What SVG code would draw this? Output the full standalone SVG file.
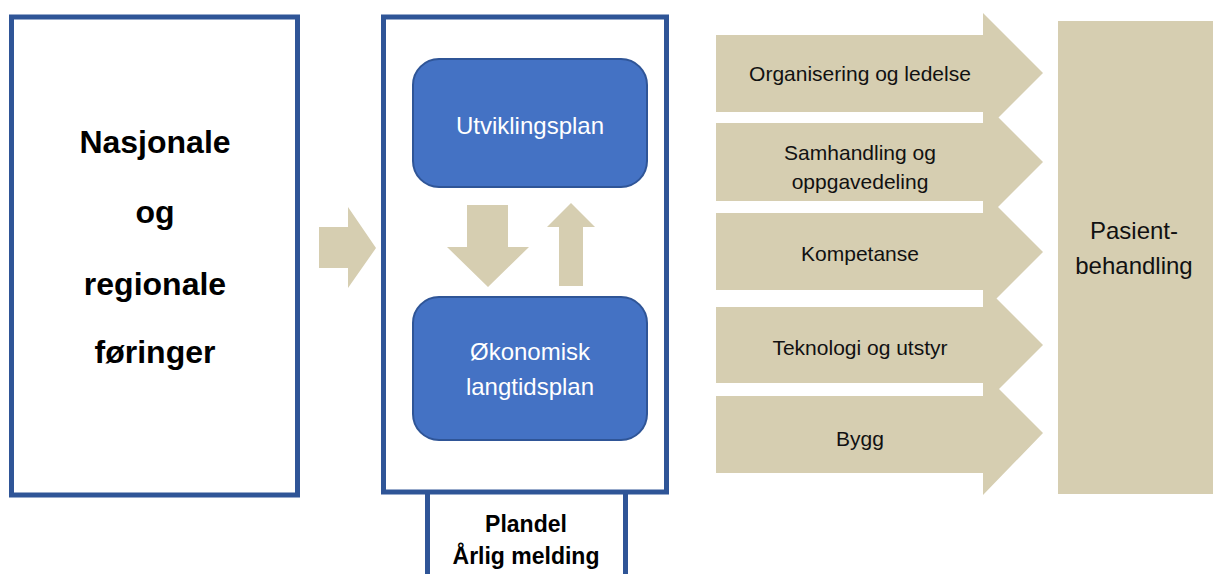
<svg xmlns="http://www.w3.org/2000/svg" width="1213" height="574" viewBox="0 0 1213 574">
<style>
.frame{fill:#fff;stroke:#2F5597;stroke-width:5}
.blue{fill:#4472C4;stroke:#2F5597;stroke-width:2}
.tan{fill:#D6CEB1}
.t{font-family:"Liberation Sans",Arial,sans-serif;text-anchor:middle}
.big{font-size:32px;font-weight:bold;fill:#000}
.wt{font-size:24px;fill:#fff}
.at{font-size:21px;fill:#111}
.bt{font-size:23px;font-weight:bold;fill:#000}
.pt{font-size:24px;fill:#111}
</style>
<rect width="1213" height="574" fill="#fff"/>
<g id="nasjonale">
<rect class="frame" x="11.5" y="17" width="286" height="478"/>
<text class="t big" x="155" y="153">Nasjonale</text>
<text class="t big" x="155" y="223">og</text>
<text class="t big" x="155" y="295">regionale</text>
<text class="t big" x="155" y="363">føringer</text>
</g>
<g id="plandel">
<path class="frame" d="M427.5 492 V580 H625.5 V492"/>
<text class="t bt" x="526" y="532">Plandel</text>
<text class="t bt" x="526" y="564">Årlig melding</text>
</g>
<g id="plan-frame">
<rect class="frame" x="383.5" y="17" width="283" height="475"/>
</g>
<g id="utviklingsplan">
<rect class="blue" x="413" y="59" width="234" height="128" rx="26"/>
<text class="t wt" x="530" y="134">Utviklingsplan</text>
</g>
<g id="okonomisk">
<rect class="blue" x="413" y="297" width="234" height="143" rx="26"/>
<text class="t wt" x="530" y="360">Økonomisk</text>
<text class="t wt" x="530" y="395">langtidsplan</text>
</g>
<g id="connectors">
<polygon class="tan" points="319,227 348,227 348,207 376,248 348,288 348,268 319,268"/>
<polygon class="tan" points="467,205 508,205 508,247 529,247 488,287 447,247 467,247"/>
<polygon class="tan" points="559,286 583,286 583,227 595,227 571,203 547,227 559,227"/>
</g>
<g id="organisering">
<polygon class="tan" points="716,35 983,35 983,13 1043,73 983,133 983,112 716,112"/>
<text class="t at" x="860" y="81">Organisering og ledelse</text>
</g>
<g id="samhandling">
<polygon class="tan" points="716,123 983,123 983,102 1043,162 983,222 983,201 716,201"/>
<text class="t at" x="860" y="160">Samhandling og</text>
<text class="t at" x="860" y="189">oppgavedeling</text>
</g>
<g id="kompetanse">
<polygon class="tan" points="716,213 983,213 983,192 1043,252 983,312 983,290 716,290"/>
<text class="t at" x="860" y="261">Kompetanse</text>
</g>
<g id="teknologi">
<polygon class="tan" points="716,307 983,307 983,285 1043,345 983,405 983,383 716,383"/>
<text class="t at" x="860" y="355">Teknologi og utstyr</text>
</g>
<g id="bygg">
<polygon class="tan" points="716,396 983,396 983,373 1043,433 983,495 983,473 716,473"/>
<text class="t at" x="860" y="446">Bygg</text>
</g>
<g id="pasientbehandling">
<rect class="tan" x="1058" y="21" width="155" height="473"/>
<text class="t pt" x="1134" y="239">Pasient-</text>
<text class="t pt" x="1134" y="274">behandling</text>
</g>
</svg>
